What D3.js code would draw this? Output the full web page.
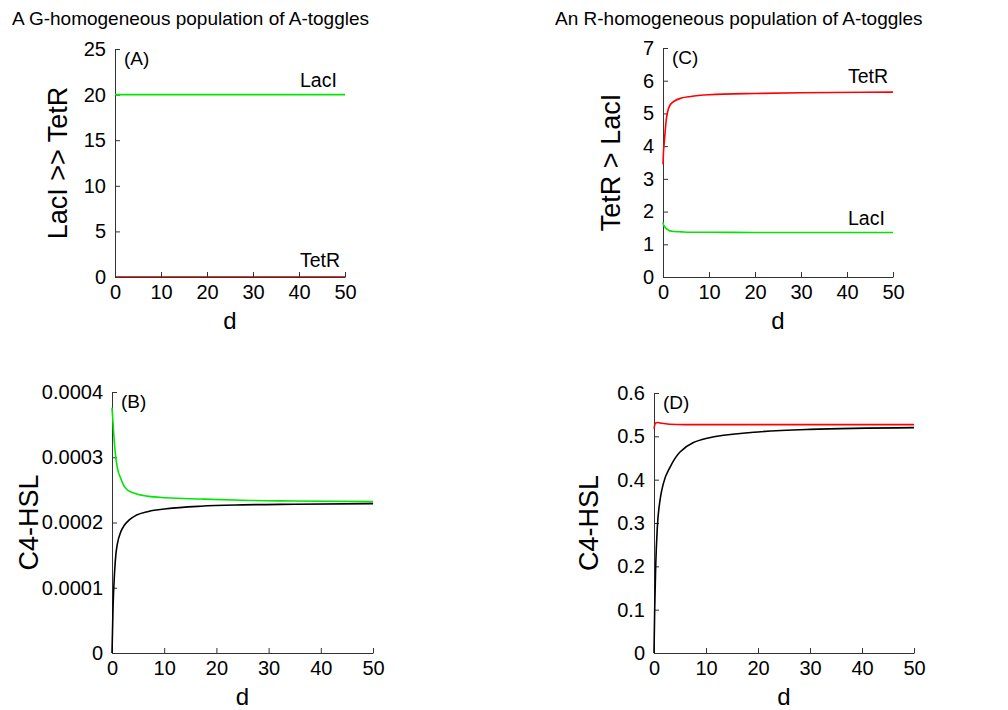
<!DOCTYPE html>
<html>
<head>
<meta charset="utf-8">
<script src="https://cdn.jsdelivr.net/npm/d3@7"></script>
<style>
  body { margin: 0; background: #fff; }
  svg { font-family: "Liberation Sans", Arial, sans-serif; }
</style>
</head>
<body>
<svg id="chart" width="1008" height="710"></svg>
<script>
// panel A: G-homogeneous, proteins
const dA = [0, 50];
const lacIA = [20, 20];
const tetRA = [0, 0];

// panel B: G-homogeneous, C4-HSL
const dB = [0, 0.2, 0.5, 0.75, 1, 1.7, 2.3, 3.3, 4.6, 7, 10.4, 17, 25, 35, 50];
const greenB = [0.000376, 0.000352, 0.000318, 0.000298, 0.000285, 0.000267, 0.000256, 0.000248, 0.000244, 0.00024, 0.000238, 0.000236, 0.000234, 0.000233, 0.000232];
const blackB = [0, 0.00007, 0.000125, 0.000152, 0.000166, 0.000186, 0.000195, 0.000204, 0.000211, 0.000217, 0.000221, 0.000225, 0.000227, 0.000228, 0.000229];

// panel C: R-homogeneous, proteins
const dC = [0, 0.1, 0.3, 0.7, 1, 1.5, 2.5, 4, 6, 10, 20, 30, 50];
const tetRC = [3.45, 3.8, 4.15, 4.8, 5.05, 5.25, 5.38, 5.47, 5.52, 5.57, 5.61, 5.63, 5.65];
const lacIC = [1.68, 1.6, 1.55, 1.48, 1.45, 1.41, 1.39, 1.38, 1.37, 1.37, 1.36, 1.36, 1.36];

// panel D: R-homogeneous, C4-HSL
const dDblack = [0, 0.13, 0.32, 0.64, 1.15, 1.8, 3.1, 5, 10, 20, 30, 50];
const blackD = [0, 0.098, 0.198, 0.29, 0.352, 0.391, 0.429, 0.464, 0.495, 0.51, 0.516, 0.52];
const dDred = [0, 0.3, 0.7, 1.5, 3, 6, 10, 20, 50];
const redD = [0.518, 0.531, 0.532, 0.53, 0.528, 0.527, 0.527, 0.527, 0.527];

const xTicks = [0, 10, 20, 30, 40, 50];
const yTicksA = [0, 5, 10, 15, 20, 25];
const yTicksB = [0, 0.0001, 0.0002, 0.0003, 0.0004];
const yTicksC = [0, 1, 2, 3, 4, 5, 6, 7];
const yTicksD = [0, 0.1, 0.2, 0.3, 0.4, 0.5, 0.6];

const svg = d3.select("#chart");

// titles
svg.append("text").attr("x", 12).attr("y", 25).style("font-size", "19px")
  .text("A G-homogeneous population of A-toggles");
svg.append("text").attr("x", 555).attr("y", 25).style("font-size", "19px")
  .text("An R-homogeneous population of A-toggles");

function panel(cfg) {
  const x = d3.scaleLinear().domain([0, 50]).range([cfg.left, cfg.right]);
  const y = d3.scaleLinear().domain(cfg.yDomain).range([cfg.bottom, cfg.top]);

  const gx = svg.append("g")
    .attr("transform", `translate(0,${cfg.bottom})`)
    .call(d3.axisBottom(x).tickValues(xTicks).tickSize(-5).tickSizeOuter(0).tickPadding(8));
  gx.selectAll("text").style("font-size", "20px").attr("fill", "#000");

  const gy = svg.append("g")
    .attr("transform", `translate(${cfg.left},0)`)
    .call(d3.axisLeft(y).tickValues(cfg.yTicks).tickFormat(cfg.fmt).tickSize(-5).tickSizeOuter(0).tickPadding(9));
  gy.selectAll("text").style("font-size", "20px").attr("fill", "#000");

  [gx, gy].forEach(g => {
    g.select(".domain").attr("stroke", "#333");
    g.selectAll(".tick line").attr("stroke", "#333");
  });

  cfg.series.forEach(s => {
    const pts = s.d.map((d, i) => [d, s.v[i]]);
    svg.append("path")
      .datum(pts)
      .attr("fill", "none")
      .attr("stroke", s.color)
      .attr("stroke-width", 1.6)
      .attr("d", d3.line().x(p => x(p[0])).y(p => y(p[1])).curve(d3.curveMonotoneX));
  });

  svg.append("text").attr("x", cfg.left + 9).attr("y", cfg.top + 16)
    .style("font-size", "19px").text(cfg.tag);

  (cfg.labels || []).forEach(l => {
    svg.append("text").attr("x", cfg.labX).attr("y", l.y)
      .style("font-size", "19.5px").text(l.text);
  });

  svg.append("text")
    .attr("x", (cfg.left + cfg.right) / 2)
    .attr("y", cfg.bottom + 52)
    .style("text-anchor", "middle").style("font-size", "24px").text("d");

  svg.append("text")
    .attr("transform", `translate(${cfg.ylabX},${(cfg.top + cfg.bottom) / 2}) rotate(-90)`)
    .style("text-anchor", "middle").style("font-size", "27px").text(cfg.ylabel);
}

panel({
  left: 115, right: 345, top: 49, bottom: 277, yDomain: [0, 25], yTicks: yTicksA,
  fmt: d3.format("d"), tag: "(A)", ylabel: "LacI >> TetR", ylabX: 67, labX: 300,
  series: [
    { d: dA, v: lacIA, color: "#00e600" },
    { d: dA, v: tetRA, color: "#8b1010" }
  ],
  labels: [{ text: "LacI", y: 87 }, { text: "TetR", y: 267 }]
});

panel({
  left: 112, right: 373, top: 392, bottom: 653, yDomain: [0, 0.0004], yTicks: yTicksB,
  fmt: d => d === 0 ? "0" : d3.format(".4f")(d), tag: "(B)", ylabel: "C4-HSL", ylabX: 38,
  series: [
    { d: dB, v: greenB, color: "#00e600" },
    { d: dB, v: blackB, color: "#000" }
  ]
});

panel({
  left: 663, right: 893, top: 48, bottom: 277, yDomain: [0, 7], yTicks: yTicksC,
  fmt: d3.format("d"), tag: "(C)", ylabel: "TetR > LacI", ylabX: 620, labX: 848,
  series: [
    { d: dC, v: tetRC, color: "#ff0000" },
    { d: dC, v: lacIC, color: "#00e600" }
  ],
  labels: [{ text: "TetR", y: 83 }, { text: "LacI", y: 225 }]
});

panel({
  left: 654, right: 914, top: 393, bottom: 653, yDomain: [0, 0.6], yTicks: yTicksD,
  fmt: d => d === 0 ? "0" : d3.format(".1f")(d), tag: "(D)", ylabel: "C4-HSL", ylabX: 598,
  series: [
    { d: dDred, v: redD, color: "#ff0000" },
    { d: dDblack, v: blackD, color: "#000" }
  ]
});
</script>
</body>
</html>
